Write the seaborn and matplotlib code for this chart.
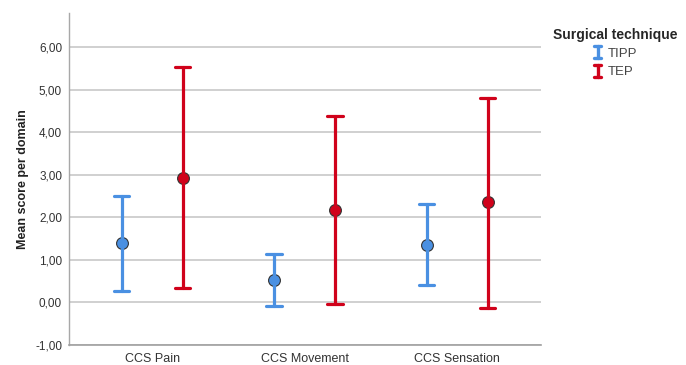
import numpy as np
import pandas as pd
import matplotlib
matplotlib.use("Agg")
import matplotlib.pyplot as plt
import seaborn as sns
from matplotlib.legend_handler import HandlerBase
from matplotlib.lines import Line2D

domains = ["CCS Pain", "CCS Movement", "CCS Sensation"]
techniques = ["TIPP", "TEP"]
tipp_mean = [1.39, 0.52, 1.36]
tipp_low = [0.28, -0.09, 0.40]
tipp_high = [2.49, 1.13, 2.32]
tep_mean = [2.93, 2.18, 2.35]
tep_low = [0.33, -0.04, -0.12]
tep_high = [5.53, 4.39, 4.81]
yticks = [-1, 0, 1, 2, 3, 4, 5, 6]
colors = {"TIPP": "#4A90E2", "TEP": "#D0021B"}

rows = []
for i, d in enumerate(domains):
    for t, lo, m, hi in (("TIPP", tipp_low, tipp_mean, tipp_high),
                         ("TEP", tep_low, tep_mean, tep_high)):
        for v in (lo[i], m[i], hi[i]):
            rows.append({"domain": d, "technique": t, "score": v})
df = pd.DataFrame(rows)

sns.set_style("white")
plt.rcParams["font.family"] = ["Liberation Sans", "DejaVu Sans"]

fig = plt.figure(figsize=(6.86, 3.65), dpi=100)
ax = fig.add_axes([69 / 686, 20 / 365, (541 - 69) / 686, (345 - 13) / 365])

sns.pointplot(data=df, x="domain", y="score", hue="technique",
              order=domains, hue_order=techniques, palette=colors,
              estimator="median", errorbar=lambda v: (v.min(), v.max()),
              dodge=0.4, linestyle="none", markers="o", capsize=0.1,
              err_kws={"linewidth": 2.3}, markersize=8.5,
              markeredgecolor="#333333", markeredgewidth=0.8,
              legend=False, ax=ax)

ax.set_ylim(-1, 6.8)
ax.set_xlim(-0.545, 2.55)
ax.set_yticks(yticks)
ax.set_yticklabels([f"{v:.2f}".replace(".", ",") for v in yticks])
ax.yaxis.grid(True, color="#C4C4C4", linewidth=1.1)
ax.set_axisbelow(True)
for s in ("top", "right"):
    ax.spines[s].set_visible(False)
ax.spines["left"].set_color("#A8A8A8")
ax.spines["bottom"].set_color("#A0A0A0")
ax.spines["left"].set_linewidth(1.0)
ax.spines["bottom"].set_linewidth(1.2)
ax.tick_params(axis="y", length=3, color="#A8A8A8", labelsize=8.5, labelcolor="#333333", pad=2)
ax.tick_params(axis="x", length=0, labelsize=9, labelcolor="#333333", pad=6)
ax.set_xlabel("")
ax.set_ylabel("Mean score per domain", fontsize=9, fontweight="bold", color="#222222", labelpad=4)


class IHandler(HandlerBase):
    def create_artists(self, legend, orig_handle, xdescent, ydescent,
                       width, height, fontsize, trans):
        c = orig_handle.get_color()
        cx = -xdescent + width / 2
        y0 = -ydescent - 1
        y1 = -ydescent + height + 1
        w = width * 0.4
        arts = [Line2D([cx, cx], [y0, y1], color=c, lw=2.4, transform=trans),
                Line2D([cx - w, cx + w], [y0, y0], color=c, lw=2.4, transform=trans),
                Line2D([cx - w, cx + w], [y1, y1], color=c, lw=2.4, transform=trans)]
        return arts


handles = [Line2D([], [], color=colors[t]) for t in techniques]
leg = fig.legend(handles, techniques, loc="upper left",
                 bbox_to_anchor=(541 / 686, 1 - 16 / 365),
                 frameon=False, title="Surgical technique",
                 handler_map={Line2D: IHandler()}, handlelength=0.7,
                 handletextpad=0.4, fontsize=9.5, title_fontsize=10,
                 labelspacing=0.45)
leg.get_title().set_fontweight("bold")
for txt in leg.get_texts():
    txt.set_color("#444444")

fig.savefig("out.png", dpi=100)
